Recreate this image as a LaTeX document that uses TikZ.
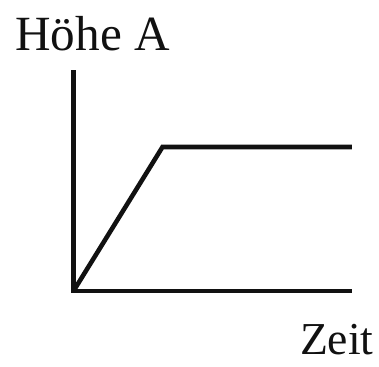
\documentclass[tikz,border=0pt]{standalone}
\usepackage{fontspec}
\setmainfont{Liberation Serif}
\definecolor{axisblack}{HTML}{111111}

\begin{document}
\begin{tikzpicture}[
        every node/.style={font=\fontsize{28}{30}\selectfont, text=axisblack, inner sep=0pt},
        ax/.style={draw=axisblack, line width=2.6pt},
        curve/.style={draw=axisblack, line width=2.6pt, line join=miter},
      ]
      \useasboundingbox (0,0) rectangle (7.58,7.32);

      \coordinate (o)    at (1.47, 1.50);
      \coordinate (ytop) at (1.47, 5.92);
      \coordinate (xend) at (7.04, 1.50);
      \coordinate (knee) at (3.25, 4.38);
      \coordinate (flat) at (7.04, 4.38);

      \draw[ax] (ytop) -- (o) -- (xend);
      \draw[curve] (o) -- (knee) -- (flat);

      \node[anchor=base west] (hoehe) at (0.30, 6.32) {Höhe A};
      \node[anchor=base east, font=\fontsize{26}{28}\selectfont] (zeit) at (7.48, 0.24) {Zeit};
    \end{tikzpicture}
\end{document}
